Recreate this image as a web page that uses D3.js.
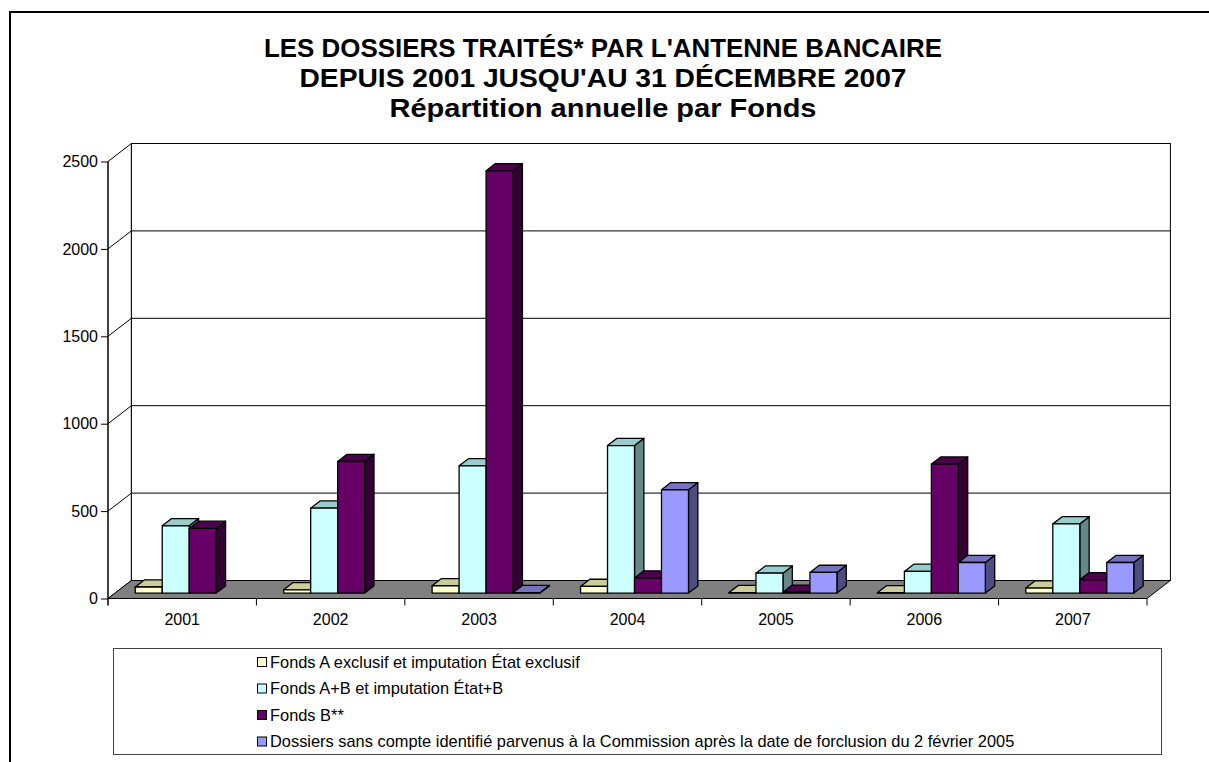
<!DOCTYPE html>
<html>
<head>
<meta charset="utf-8">
<script src="https://cdn.jsdelivr.net/npm/d3@7"></script>
<style>
  body { margin: 0; background: #fff; }
  svg { display: block; font-family: Arial, "Liberation Sans", sans-serif; }
</style>
</head>
<body>
<div id="chart"></div>
<script>
// data
const years = ["2001", "2002", "2003", "2004", "2005", "2006", "2007"];
const seriesNames = [
  "Fonds A exclusif et imputation État exclusif",
  "Fonds A+B et imputation État+B",
  "Fonds B**",
  "Dossiers sans compte identifié parvenus à la Commission après la date de forclusion du 2 février 2005"
];
const fondsA = [35, 19, 42, 38, 3, 2, 29];
const fondsAB = [385, 486, 728, 844, 114, 124, 396];
const fondsB = [370, 753, 2416, 86, 5, 738, 76];
const sansCompte = [null, null, 3, 591, 118, 175, 175];
const yTicks = [0, 500, 1000, 1500, 2000, 2500];
const titleLines = [
  "LES DOSSIERS TRAITÉS* PAR L'ANTENNE BANCAIRE",
  "DEPUIS 2001 JUSQU'AU 31 DÉCEMBRE 2007",
  "Répartition annuelle par Fonds"
];
// widths the title lines take in the original rendering
const titleWidths = [678, 607, 427];

// colours: front, top, side
const frontColors = ["#FFFFCC", "#CCFFFF", "#660066", "#9999FF"];
const topColors = ["#CCCC99", "#99CCCC", "#4D004D", "#7373C0"];
const sideColors = ["#999973", "#668888", "#330033", "#4D4D80"];

const allSeries = [fondsA, fondsAB, fondsB, sansCompte];

const width = 1209, height = 762;
const svg = d3.select("#chart")
  .append("svg")
  .attr("width", width)
  .attr("height", height);

// outer frame (runs off the right and bottom edges)
svg.append("rect")
  .attr("x", 10).attr("y", 12)
  .attr("width", 1400).attr("height", 1000)
  .attr("fill", "#fff")
  .attr("stroke", "#000")
  .attr("stroke-width", 2);

// title
svg.append("g")
  .selectAll("text")
  .data(titleLines)
  .enter()
  .append("text")
  .attr("x", 603)
  .attr("y", (d, i) => 57 + i * 30)
  .attr("text-anchor", "middle")
  .attr("font-size", 26)
  .attr("font-weight", "bold")
  .attr("textLength", (d, i) => titleWidths[i])
  .attr("lengthAdjust", "spacingAndGlyphs")
  .text(d => d);

// 3d geometry
const depthX = 23.4, depthY = 18;
const x = d3.scaleBand().domain(years).range([108, 1147]);
const xs = d3.scaleBand().domain(d3.range(4)).range([0, x.bandwidth()])
  .paddingInner(0).paddingOuter(0.75);
const y = d3.scaleLinear().domain([0, 2500]).range([598.5, 161.5]);

const xL = x.range()[0], xR = x.range()[1];
const yTop = y(2500), yBase = y(0);

// side wall
svg.append("path")
  .attr("d", `M${xL},${yBase}L${xL},${yTop}L${xL + depthX},${yTop - depthY}L${xL + depthX},${yBase - depthY}Z`)
  .attr("fill", "#fff").attr("stroke", "#000");

// back wall
svg.append("rect")
  .attr("x", xL + depthX).attr("y", yTop - depthY)
  .attr("width", xR - xL).attr("height", yBase - yTop)
  .attr("fill", "#fff").attr("stroke", "#000");

// gridlines on walls
const grid = svg.append("g").attr("stroke", "#000").attr("fill", "none");
yTicks.filter(t => t > 0 && t < 2500).forEach(t => {
  grid.append("path")
    .attr("d", `M${xL},${y(t)}L${xL + depthX},${y(t) - depthY}L${xR + depthX},${y(t) - depthY}`);
});

// floor
svg.append("path")
  .attr("d", `M${xL},${yBase}L${xR},${yBase}L${xR + depthX},${yBase - depthY}L${xL + depthX},${yBase - depthY}Z`)
  .attr("fill", "#808080").attr("stroke", "#000");

// y axis
const yAxis = svg.append("g")
  .attr("transform", `translate(${xL},0)`)
  .call(d3.axisLeft(y).tickValues(yTicks).tickFormat(d3.format("d"))
    .tickSize(7).tickSizeOuter(0).tickPadding(3));
yAxis.attr("font-family", null).attr("font-size", 16);
yAxis.selectAll("text").attr("fill", "#000");
yAxis.select(".domain").remove();
svg.append("line")
  .attr("x1", xL).attr("x2", xL)
  .attr("y1", yTop).attr("y2", yBase + 7)
  .attr("stroke", "#000");

// x axis: labels centred, ticks at category boundaries
const xAxis = svg.append("g")
  .attr("transform", `translate(0,${yBase})`)
  .call(d3.axisBottom(x).tickSize(0).tickPadding(15));
xAxis.attr("font-family", null).attr("font-size", 16);
xAxis.select(".domain").remove();
xAxis.selectAll("text").attr("fill", "#000");
svg.append("g")
  .selectAll("line")
  .data(years.map(d => x(d)).concat([xR]))
  .enter()
  .append("line")
  .attr("x1", d => d).attr("x2", d => d)
  .attr("y1", yBase).attr("y2", yBase + 7)
  .attr("stroke", "#000");

// bars, drawn left to right so each bar covers its neighbour's side
const f0 = 0.3, fd = 0.4;
const bx = fd * depthX, by = fd * depthY;
const bars = [];
years.forEach((yr, i) => {
  allSeries.forEach((s, j) => {
    if (s[i] !== null) bars.push({ year: yr, series: j, value: s[i] });
  });
});

const barG = svg.append("g")
  .attr("stroke", "#000")
  .attr("stroke-width", 1.3)
  .attr("stroke-linejoin", "round");

bars.forEach(b => {
  const x0 = x(b.year) + xs(b.series) + f0 * depthX;
  const x1 = x0 + xs.bandwidth();
  const yb = y(0) - f0 * depthY;
  const yt = y(b.value) - f0 * depthY;
  const g = barG.append("g");
  g.append("path")
    .attr("d", `M${x1},${yt}L${x1 + bx},${yt - by}L${x1 + bx},${yb - by}L${x1},${yb}Z`)
    .attr("fill", sideColors[b.series]);
  g.append("path")
    .attr("d", `M${x0},${yt}L${x0 + bx},${yt - by}L${x1 + bx},${yt - by}L${x1},${yt}Z`)
    .attr("fill", topColors[b.series]);
  g.append("rect")
    .attr("x", x0).attr("y", yt)
    .attr("width", x1 - x0).attr("height", yb - yt)
    .attr("fill", frontColors[b.series]);
});

// legend
const legend = svg.append("g");
legend.append("rect")
  .attr("x", 113.5).attr("y", 648.5)
  .attr("width", 1048).attr("height", 106)
  .attr("fill", "#fff").attr("stroke", "#444");
const items = legend.selectAll("g.item")
  .data(seriesNames)
  .enter()
  .append("g")
  .attr("class", "item")
  .attr("transform", (d, i) => `translate(257,${662 + i * 26.5})`);
items.append("rect")
  .attr("x", 0.5).attr("y", -4.5)
  .attr("width", 9).attr("height", 9)
  .attr("fill", (d, i) => frontColors[i])
  .attr("stroke", "#000");
items.append("text")
  .attr("x", 13).attr("y", 0)
  .attr("dy", "0.35em")
  .attr("font-size", 16.4)
  .text(d => d);
</script>
</body>
</html>
